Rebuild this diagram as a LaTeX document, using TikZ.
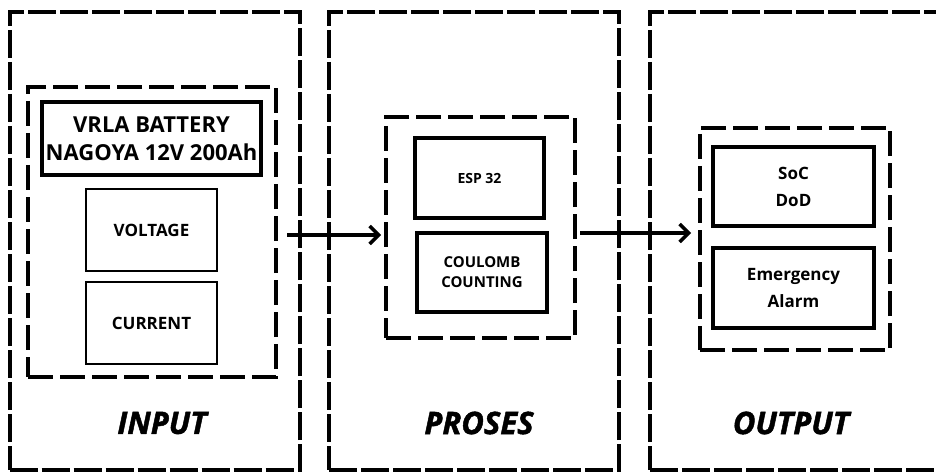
\documentclass[tikz,border=0pt]{standalone}
\usepackage{fontspec}
\setmainfont{Open Sans}
\newfontfamily\heavyfont{Open Sans}[BoldItalicFeatures={FakeBold=1.5}]
\usetikzlibrary{arrows.meta,positioning}
\tikzset{
  zone/.style={draw, line width=4pt, dash pattern=on 28pt off 4pt, minimum width=290pt, minimum height=458pt, inner sep=0pt},
  grp/.style={draw, line width=4pt, dash pattern=on 25pt off 7pt, inner sep=0pt},
  bigbox/.style={draw, line width=4.5pt, align=center, inner sep=0pt},
  thinbox/.style={draw, line width=2pt, align=center, inner sep=0pt, minimum width=131pt, minimum height=82pt, font=\bfseries\fontsize{17}{20}\selectfont},
  ttl/.style={font=\heavyfont\bfseries\itshape\fontsize{31}{34}\selectfont},
  arr/.style={-{Straight Barb[length=9pt,width=18pt]}, line width=3.5pt},
}

\begin{document}
\begin{tikzpicture}[x=1pt, y=-1pt]
  \path[use as bounding box, fill=white] (0,0) rectangle (936,473);

  % the three stages
  \foreach \n/\x/\tx/\t in {input/154.5/162/INPUT, proses/474/479/PROSES, output/795/791/OUTPUT}
    { \node[zone] (\n) at (\x,241) {}; \node[ttl] (\n-ttl) at (\tx,423) {\t}; }

  % input side
  \node[grp, minimum width=248pt, minimum height=290pt] (inbox) at (152,232) {};
  \node[bigbox, line width=4pt, minimum width=219pt, minimum height=73pt,
        font=\bfseries\fontsize{22}{28}\selectfont] (batt) at (151.5,138.5) {VRLA BATTERY\\NAGOYA 12V 200Ah};
  \node[thinbox] (volt) at (151.5,230) {VOLTAGE};
  \node[thinbox] (curr) at (151.5,323) {CURRENT};

  % process
  \node[grp, minimum width=189pt, minimum height=221pt] (probox) at (480.5,227.5) {};
  \node[bigbox, minimum width=129pt, minimum height=80pt,
        font=\bfseries\fontsize{14}{20}\selectfont] (esp) at (479.5,178) {ESP 32};
  \node[bigbox, minimum width=130pt, minimum height=79pt,
        font=\bfseries\fontsize{15}{20}\selectfont] (coul) at (482,272.5) {COULOMB\\COUNTING};

  % output
  \node[grp, minimum width=190pt, minimum height=222pt] (outbox) at (795,239) {};
  \node[bigbox, minimum width=161pt, minimum height=79pt,
        font=\bfseries\fontsize{17}{27}\selectfont] (soc) at (793.5,186.5) {SoC\\DoD};
  \node[bigbox, minimum width=161pt, minimum height=80pt,
        font=\bfseries\fontsize{17}{27}\selectfont] (alarm) at (793.5,288) {Emergency\\Alarm};

  % connectors
  \coordinate (a1) at ([xshift=9pt,yshift=-3pt]inbox.east);
  \coordinate (a2) at ([xshift=3pt,yshift=-5.5pt]probox.east);
  \draw[arr, shorten >=3pt] (a1) -- (a1 -| probox.west);
  \draw[arr, shorten >=7pt] (a2) -- (a2 -| outbox.west);
\end{tikzpicture}
\end{document}
